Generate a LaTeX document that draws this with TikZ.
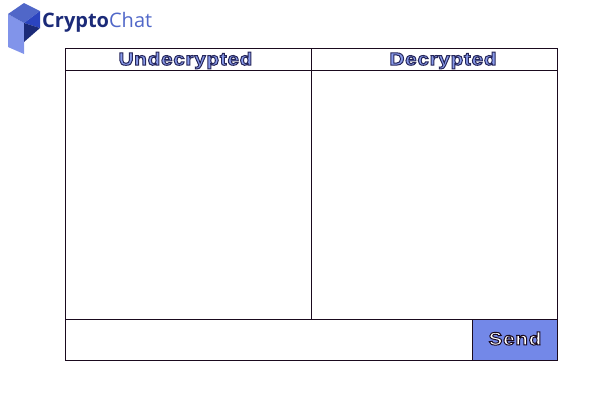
\documentclass[tikz,border=0pt]{standalone}
\usepackage{fontspec}
\setmainfont{Liberation Sans}
\newfontfamily\logofont{Open Sans}
\newfontfamily\headfont[BoldFeatures={FakeBold=5.5,FakeStretch=1.15,LetterSpace=4}]{Liberation Sans}
\usetikzlibrary{positioning}
\definecolor{btnblue}{HTML}{7388E8}
\definecolor{inkdark}{HTML}{1A0A1E}
\definecolor{logonavy}{HTML}{1B2A78}
\definecolor{logomid}{HTML}{2B44C0}
\definecolor{logolight}{HTML}{5067C8}
% stroke colour for the outlined letters
\newcommand{\inkstroke}{\special{pdf:code 0.15 0.15 0.35 RG}}
\tikzset{
  panel/.style={draw=inkdark,line width=0.8pt,minimum width=246pt,inner sep=0pt,outer sep=0pt},
  headtext/.style={font=\headfont\fontsize{18}{19}\selectfont\bfseries,text=btnblue!85!white,inner sep=0pt},
}
\begin{document}
\begin{tikzpicture}[x=1pt,y=-1pt]
  \useasboundingbox (0,0) rectangle (600,400);
  % logo
  \fill[fill=btnblue!90!white] (8,14) -- (24,23) -- (24,54) -- (8,47) -- cycle;
  \fill[fill=logolight] (8,14) -- (24,3) -- (40,11) -- (24,23) -- cycle;
  \fill[fill=logomid] (24,23) -- (40,11) -- (40,28) -- (24,23) -- cycle;
  \fill[fill=logonavy] (24,23) -- (40,28) -- (24,42) -- cycle;
  \node[font=\logofont\fontsize{20}{22}\selectfont,anchor=west,inner sep=0pt] (logo) at (42,22)
    {\textcolor{logonavy}{\textbf{Crypto}}\textcolor{logolight}{Chat}};
  % table
  \node[panel,minimum height=22pt,anchor=north west] (undechead) at (65.5,48) {};
  \node[panel,minimum height=22pt,right=0pt of undechead] (dechead) {};
  \node[panel,minimum height=249pt,below=0pt of undechead] (undecbox) {};
  \node[panel,minimum height=249pt,below=0pt of dechead] (decbox) {};
  \node[panel,minimum width=407pt,minimum height=41pt,anchor=north west] (msgbox) at (undecbox.south west) {};
  \node[panel,fill=btnblue,minimum width=85pt,minimum height=41pt,right=0pt of msgbox] (sendbtn) {};
  \node[headtext] (undectext) at ([xshift=-3pt,yshift=-1.5pt]undechead) {\inkstroke Undecrypted};
  \node[headtext] (dectext) at ([xshift=8.5pt,yshift=-1.5pt]dechead) {\inkstroke Decrypted};
  \node[headtext,text=white] (sendtext) at ([yshift=1pt]sendbtn) {\special{pdf:code 0.10 0.04 0.12 RG}Send};
\end{tikzpicture}
\end{document}
